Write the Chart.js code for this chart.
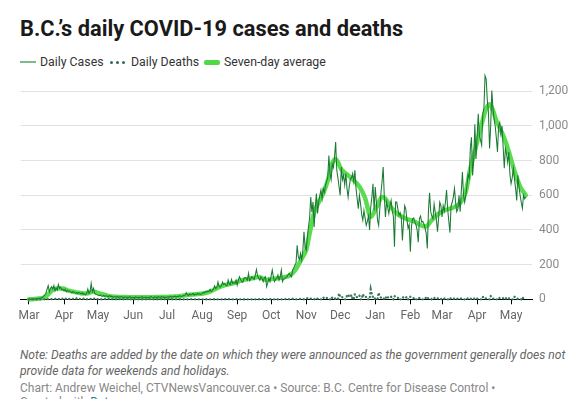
<!DOCTYPE html>
<html><head><meta charset="utf-8">
<script src="https://cdn.jsdelivr.net/npm/chart.js@4"></script>
<style>
body{margin:0;background:#fff;width:573px;height:399px;overflow:hidden;font-family:Roboto,sans-serif;position:relative}
#title{position:absolute;left:20px;top:16px;font-size:21.8px;font-weight:700;color:#1a1a1a;white-space:nowrap}
.lg{position:absolute;top:55px;font-size:12.3px;color:#333;white-space:nowrap;line-height:15px}
.sw{position:absolute}
#note{position:absolute;left:20px;top:347px;font-size:12.1px;font-style:italic;color:#666;line-height:16px;white-space:nowrap}
#credit{position:absolute;left:20px;top:381px;font-size:12px;color:#888;white-space:nowrap}
#created{position:absolute;left:20px;top:395px;font-size:12px;color:#888;white-space:nowrap}
#created span{color:#1d81a2}
canvas{position:absolute;left:0;top:71px}
</style></head>
<body>
<div id="title">B.C.’s daily COVID-19 cases and deaths</div>
<div class="sw" style="left:20px;top:61px;width:16px;height:2px;background:#80b98c"></div>
<div class="lg" style="left:40px">Daily Cases</div>
<div class="sw" style="left:110px;top:61px;width:3px;height:3px;border-radius:2px;background:#2f6e52"></div>
<div class="sw" style="left:116px;top:61px;width:3px;height:3px;border-radius:2px;background:#2f6e52"></div>
<div class="sw" style="left:122px;top:61px;width:3px;height:3px;border-radius:2px;background:#2f6e52"></div>
<div class="lg" style="left:131px">Daily Deaths</div>
<div class="sw" style="left:204px;top:60px;width:16px;height:5px;border-radius:2px;background:#4fda45"></div>
<div class="lg" style="left:224px">Seven-day average</div>
<canvas id="c" width="573" height="260"></canvas>
<div id="note">Note: Deaths are added by the date on which they were announced as the government generally does not<br>provide data for weekends and holidays.</div>
<div id="credit">Chart: Andrew Weichel, CTVNewsVancouver.ca • Source: B.C. Centre for Disease Control •</div>
<div id="created">Created with <span>Datawrapper</span></div>
<script>
// Day index 0 = 1 March 2020
const monthTickDays = [0,31,61,92,122,153,184,214,245,275,306,337,365,396,426];
const monthTickLabels = ['Mar','Apr','May','Jun','Jul','Aug','Sep','Oct','Nov','Dec','Jan','Feb','Mar','Apr','May'];
const yTickValues = [0,200,400,600,800,1000,1200];

// Daily cases, by month
const casesMar20 = [0,0,1,1,2,2,4,3,5,6,7,6,10,18,25,35,58,79,44,63,73,59,79,48,65,54,86,63,69,55,58];
const casesApr20 = [48,59,44,52,46,48,42,38,45,40,35,38,33,40,36,30,38,29,33,26,34,59,35,44,92,44,63,35,29,27];
const casesMay20 = [24,21,25,19,18,22,17,20,19,15,21,16,18,14,13,15,12,17,11,14,13,16,10,12,14,11,13,10,15,12,9];
const casesJun20 = [11,8,14,12,9,13,10,12,15,9,11,14,8,12,10,13,16,11,9,14,12,10,15,13,11,16,12,14,10,13];
const casesJul20 = [12,15,13,18,11,16,14,19,13,17,15,21,18,16,22,20,24,38,26,22,30,25,28,33,24,30,27,35,29,32,28];
const casesAug20 = [33,40,36,45,42,47,44,57,46,52,58,77,62,68,100,73,70,78,100,85,92,80,78,111,88,84,115,92,96,92,111];
const casesSep20 = [82,110,130,115,102,98,121,125,121,110,150,107,118,130,122,115,140,172,135,121,110,130,118,102,125,130,73,95,121,102];
const casesOct20 = [135,169,128,102,115,121,140,111,130,169,102,115,121,128,130,142,150,138,130,169,180,197,210,312,245,230,264,226,280,389,303];
const casesNov20 = [284,360,418,470,590,504,562,418,533,610,495,560,600,630,580,640,617,657,680,700,830,725,690,780,760,820,907,745,700,650];
const casesDec20 = [600,763,690,715,660,725,640,590,650,695,700,725,680,745,640,580,523,600,552,490,456,513,470,427,450,480,400,533,590,667,513];
const casesJan21 = [648,560,456,427,520,610,680,763,590,475,562,530,495,540,571,510,480,303,562,560,520,485,500,470,340,450,540,520,460,410,430];
const casesFeb21 = [275,420,465,470,445,430,400,330,465,480,445,450,435,410,380,293,510,615,505,480,465,550,500,460,390,470,560,540];
const casesMar21 = [475,540,510,560,630,520,450,385,540,560,590,640,560,505,520,600,505,620,735,600,560,600,655,720,700,870,935,715,800,1010,810];
const casesApr21 = [940,1070,945,920,890,1070,1100,1290,1270,1150,1080,870,1000,1205,1100,1040,1000,930,850,1000,1020,955,1000,880,757,870,840,790,850,720];
const casesMay21 = [667,700,755,695,640,570,715,650,600,560,525,600,580,590];

// Daily deaths, by month
const deathsMar20 = [0,0,0,0,0,0,0,0,1,0,0,0,0,0,0,0,3,0,1,1,1,0,0,3,1,2,3,0,2,0,5];
const deathsApr20 = [2,5,2,0,4,1,1,3,3,5,2,5,0,2,2,5,3,4,0,2,0,3,4,2,2,0,0,6,3,2];
const deathsMay20 = [1,0,3,0,0,2,2,0,1,3,0,2,2,0,1,0,0,2,2,1,2,0,0,0,3,1,1,1,0,0,0];
const deathsJun20 = [2,1,0,1,0,0,0,1,0,1,1,0,0,0,0,1,0,1,0,0,0,0,1,0,2,1,1,0,0,0];
const deathsJul20 = [0,1,0,0,0,0,1,0,0,0,0,0,1,0,0,0,0,0,0,0,0,1,0,0,0,0,0,0,0,0,1];
const deathsAug20 = [0,0,0,1,0,0,0,0,0,0,1,0,0,0,0,0,0,0,0,2,0,1,0,0,1,2,0,0,0,0,1];
const deathsSep20 = [0,1,0,0,0,0,0,2,0,0,0,1,0,0,2,0,0,0,0,0,1,0,2,0,1,0,0,0,1,1];
const deathsOct20 = [0,1,0,0,2,1,0,1,0,0,0,0,1,1,0,2,0,0,0,3,2,0,0,0,0,3,2,1,3,0,0];
const deathsNov20 = [0,6,2,3,4,2,0,0,7,3,4,5,0,0,0,11,6,8,10,0,0,0,13,8,11,10,0,0,0,34];
const deathsDec20 = [16,19,11,9,0,0,22,28,16,13,25,0,0,30,20,11,15,22,0,0,30,16,11,14,0,0,0,57,30,11,14];
const deathsJan21 = [0,0,0,38,15,10,12,11,0,0,19,11,10,8,15,0,0,19,13,9,8,11,0,0,12,10,14,9,15,0,0];
const deathsFeb21 = [15,11,8,6,10,0,0,9,7,5,0,0,0,0,15,8,5,6,4,0,0,9,3,6,5,4,0,0];
const deathsMar21 = [8,5,4,6,3,0,0,9,2,5,3,4,0,0,6,4,3,5,2,0,0,8,4,5,3,6,0,0,0,9,6];
const deathsApr21 = [4,3,0,0,0,15,5,4,6,5,0,0,19,6,4,5,4,0,0,10,6,5,3,6,0,0,11,8,5,4];
const deathsMay21 = [0,0,0,15,8,4,3,5,0,0,13,4,6,5];

// Seven-day average (day index, value)
const avgDays = [0,7,14,18,21,25,30,35,42,49,53,56,63,70,77,84,91,98,105,112,119,126,133,140,147,154,161,168,175,182,189,196,203,210,217,224,231,236,241,245,248,252,256,260,264,268,271,276,282,288,292,297,302,307,312,315,320,326,333,340,347,351,355,361,368,375,381,386,390,395,400,404,407,410,413,416,420,425,429,434,439];
const avgValues = [0,3,12,35,55,62,62,50,40,33,36,45,33,20,15,13,12,12,12,13,13,15,18,25,29,33,47,70,85,95,112,120,128,112,120,125,140,175,235,285,380,500,560,610,685,785,810,750,715,680,650,585,475,530,590,580,530,490,465,450,425,420,450,490,515,530,555,620,755,880,1010,1100,1125,1090,1030,990,930,830,740,650,600];

const dailyCases = [].concat(casesMar20,casesApr20,casesMay20,casesJun20,casesJul20,casesAug20,casesSep20,casesOct20,casesNov20,casesDec20,casesJan21,casesFeb21,casesMar21,casesApr21,casesMay21);
const dailyDeaths = [].concat(deathsMar20,deathsApr20,deathsMay20,deathsJun20,deathsJul20,deathsAug20,deathsSep20,deathsOct20,deathsNov20,deathsDec20,deathsJan21,deathsFeb21,deathsMar21,deathsApr21,deathsMay21);

const casesPts = dailyCases.map((v,i)=>({x:i,y:v}));
const deathsPts = dailyDeaths.map((v,i)=>({x:i,y:v}));
const avgPts = avgDays.map((d,i)=>({x:d,y:avgValues[i]}));

const noPad = s => { s.paddingTop=0; s.paddingBottom=0; s.paddingLeft=0; s.paddingRight=0; };

new Chart(document.getElementById('c'), {
  type:'line',
  data:{datasets:[
    {label:'Daily Deaths', data:deathsPts, borderColor:'#3a7a5c', borderWidth:2.3, borderDash:[0.2,3.6], borderCapStyle:'round', pointRadius:0, tension:0, order:0, clip:false},
    {label:'Daily Cases', data:casesPts, borderColor:'#1b7a33', borderWidth:1.05, pointRadius:0, tension:0, order:1, clip:false},
    {label:'Seven-day average', data:avgPts, borderColor:'rgba(72,216,60,0.9)', borderWidth:4.5, borderCapStyle:'round', pointRadius:0, cubicInterpolationMode:'monotone', order:2, clip:false}
  ]},
  options:{
    responsive:false, animation:false, events:[],
    layout:{padding:{left:20.7,right:0,top:3,bottom:0}},
    plugins:{legend:{display:false},tooltip:{enabled:false}},
    scales:{
      x:{type:'linear', min:-7.3, max:444.5,
        afterBuildTicks:s=>{s.ticks=monthTickDays.map(v=>({value:v}));},
        afterFit:s=>{s.height=31.7; noPad(s);},
        grid:{drawOnChartArea:false, drawTicks:true, tickLength:5, color:'#000', tickColor:'#000'},
        border:{display:true, color:'#000', width:1},
        ticks:{autoSkip:false, maxRotation:0, padding:4, color:'#666', font:{family:'Roboto',size:12},
          callback:(v)=>monthTickLabels[monthTickDays.indexOf(v)]}
      },
      y:{position:'right', min:0, max:1300,
        afterBuildTicks:s=>{s.ticks=yTickValues.map(v=>({value:v}));},
        afterFit:s=>{s.width=41; noPad(s);},
        grid:{color:'#e2e2e2', drawTicks:false},
        border:{display:false},
        ticks:{padding:7, color:'#8a8a8a', font:{family:'Roboto',size:12},
          callback:v=>v.toLocaleString('en-US')}
      }
    }
  }
});
</script>
</body></html>
